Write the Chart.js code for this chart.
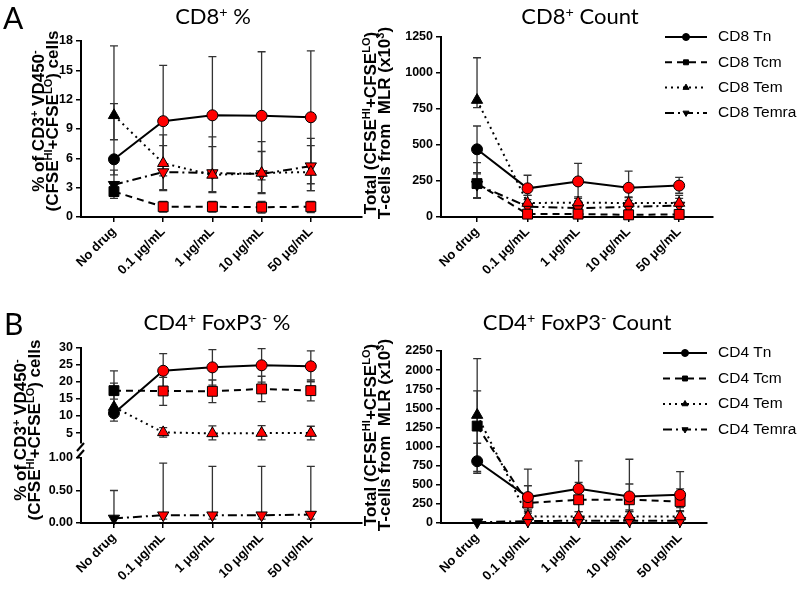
<!DOCTYPE html>
<html><head><meta charset="utf-8">
<script src="https://cdn.jsdelivr.net/npm/chart.js@4.4.1/dist/chart.umd.min.js"></script>
<style>
html,body{margin:0;padding:0;background:#fff;}
#wrap{position:relative;width:800px;height:589px;overflow:hidden;background:#fff;}
canvas{position:absolute;left:0;top:0;}
.t{position:absolute;font-family:Lato,'Open Sans',sans-serif;font-size:22px;color:#000;white-space:nowrap;transform:translateX(-50%);line-height:1;}
.p{position:absolute;font-family:Lato,'Open Sans',sans-serif;font-size:30px;line-height:1;color:#000;}
.yt{position:absolute;width:260px;font-family:'Liberation Sans',Arial,sans-serif;font-weight:bold;font-size:17px;line-height:14px;text-align:center;transform:translate(-50%,-50%) rotate(-90deg);white-space:nowrap;color:#000;}
sup{font-size:0.65em;vertical-align:0;position:relative;top:-0.5em;line-height:0;}
</style></head>
<body><div id="wrap">
<canvas id="cTL" width="800" height="589"></canvas>
<canvas id="cTR" width="800" height="589"></canvas>
<canvas id="cBLt" width="800" height="589"></canvas>
<canvas id="cBLb" width="800" height="589"></canvas>
<canvas id="cBR" width="800" height="589"></canvas>
<div class="p" style="left:3px;top:2px;">A</div>
<div class="p" style="left:4px;top:308px;">B</div>
<div class="t" style="left:213px;top:5px;">CD8<sup>+</sup> %</div>
<div class="t" style="left:580px;top:5px;">CD8<sup>+</sup> Count</div>
<div class="t" style="left:217px;top:311px;">CD4<sup>+</sup> FoxP3<sup>-</sup> %</div>
<div class="t" style="left:577px;top:311px;">CD4<sup>+</sup> FoxP3<sup>-</sup> Count</div>
<div class="yt" style="left:46px;top:121px;">% of CD3<sup>+</sup> VD450<sup>-</sup><br>(CFSE<sup>HI</sup>+CFSE<sup>LO</sup>) cells</div>
<div class="yt" style="left:28px;top:430px;">% of CD3<sup>+</sup> VD450<sup>-</sup><br>(CFSE<sup>HI</sup>+CFSE<sup>LO</sup>) cells</div>
<div class="yt" style="left:378px;top:123px;">Total (CFSE<sup>HI</sup>+CFSE<sup>LO</sup>)<br>T-cells from&nbsp; MLR (x10<sup>3</sup>)</div>
<div class="yt" style="left:378px;top:435px;">Total (CFSE<sup>HI</sup>+CFSE<sup>LO</sup>)<br>T-cells from&nbsp; MLR (x10<sup>3</sup>)</div>
</div>
<script>
// ---------- data ----------
const categories = ['No drug', '0.1 μg/mL', '1 μg/mL', '10 μg/mL', '50 μg/mL'];

const cd8PctTicks = [0, 3, 6, 9, 12, 15, 18];
const cd8CntTicks = [0, 250, 500, 750, 1000, 1250];
const cd4PctUpperTicks = [5, 10, 15, 20, 25, 30];
const cd4PctLowerTicks = [0, 0.25, 0.5, 0.75, 1];
const cd4CntTicks = [0, 250, 500, 750, 1000, 1250, 1500, 1750, 2000, 2250];

// CD8+ % (mean, upper whisker end, lower whisker end)
const cd8PctTn = [5.9, 9.8, 10.4, 10.35, 10.2];
const cd8PctTnHi = [17.5, 15.5, 16.4, 16.9, 17.0];
const cd8PctTnLo = [4.3, 4.2, 4.4, 3.8, 3.4];
const cd8PctTcm = [2.6, 1.05, 1.05, 1.0, 1.05];
const cd8PctTcmHi = [3.0, 1.6, 1.6, 1.6, 1.6];
const cd8PctTcmLo = [1.9, 0.5, 0.5, 0.4, 0.45];
const cd8PctTem = [10.4, 5.5, 4.3, 4.5, 4.6];
const cd8PctTemHi = [11.6, 8.4, 7.2, 6.7, 7.3];
const cd8PctTemLo = [7.9, 2.7, 2.5, 2.4, 2.7];
const cd8PctTemra = [3.3, 4.6, 4.5, 4.4, 5.2];
const cd8PctTemraHi = [4.8, 7.3, 8.2, 7.7, 8.05];
const cd8PctTemraLo = [2.3, 2.8, 2.6, 2.5, 2.7];

// CD8+ count (x10^3)
const cd8CntTn = [470, 199, 247, 203, 218];
const cd8CntTnHi = [632, 290, 372, 318, 275];
const cd8CntTnLo = [308, 150, 130, 140, 165];
const cd8CntTcm = [232, 20, 20, 15, 18];
const cd8CntTcmHi = [377, 35, 35, 30, 35];
const cd8CntTcmLo = [134, 8, 8, 5, 6];
const cd8CntTem = [812, 97, 100, 97, 97];
const cd8CntTemHi = [1106, 150, 140, 135, 150];
const cd8CntTemLo = [759, 45, 55, 50, 50];
const cd8CntTemra = [225, 72, 62, 70, 80];
const cd8CntTemraHi = [300, 120, 110, 115, 130];
const cd8CntTemraLo = [130, 30, 25, 25, 30];

// CD4+ FoxP3- %
const cd4PctTn = [10.8, 23.2, 24.2, 24.8, 24.5];
const cd4PctTnHi = [12.4, 28.2, 29.4, 29.7, 29.0];
const cd4PctTnLo = [8.5, 18.2, 19.0, 19.9, 20.0];
const cd4PctTcm = [17.4, 17.3, 17.2, 17.9, 17.4];
const cd4PctTcmHi = [23.2, 21.3, 20.5, 21.6, 20.5];
const cd4PctTcmLo = [14.9, 13.1, 13.9, 14.2, 14.4];
const cd4PctTem = [12.6, 5.2, 4.9, 5.0, 5.0];
const cd4PctTemHi = [19.6, 6.6, 7.1, 7.2, 7.0];
const cd4PctTemLo = [10.9, 3.8, 3.0, 3.0, 3.0];
const cd4PctTemra = [0.07, 0.12, 0.12, 0.12, 0.13];
const cd4PctTemraHi = [0.50, 0.92, 0.87, 0.87, 0.87];
const cd4PctTemraLo = [0.0, 0.06, 0.06, 0.06, 0.06];

// CD4+ FoxP3- count (x10^3)
const cd4CntTn = [808, 339, 447, 347, 369];
const cd4CntTnHi = [1043, 704, 812, 834, 673];
const cd4CntTnLo = [651, 150, 90, 150, 200];
const cd4CntTcm = [1268, 261, 304, 304, 282];
const cd4CntTcmHi = [1729, 487, 530, 510, 447];
const cd4CntTcmLo = [808, 130, 150, 170, 160];
const cd4CntTem = [1412, 87, 85, 85, 85];
const cd4CntTemHi = [2150, 170, 150, 150, 150];
const cd4CntTemLo = [674, 20, 20, 20, 20];
const cd4CntTemra = [10, 25, 30, 30, 30];
const cd4CntTemraHi = [20, 60, 60, 60, 60];
const cd4CntTemraLo = [0, 5, 5, 5, 5];

// ---------- styles ----------
const STYLE = {
  Tn:    {dash: [],            point: 'circle',   rot: 0,   r: 5.5},
  Tcm:   {dash: [7, 5],        point: 'rect',     rot: 0,   r: 7},
  Tem:   {dash: [2, 4],        point: 'triangle', rot: 0,   r: 6.5},
  Temra: {dash: [9, 4, 2, 4],  point: 'triangle', rot: 180, r: 6.5}
};
const RED = '#ff0000';

function ds(label, kind, values, hi, lo) {
  const s = STYLE[kind];
  return {
    label: label,
    data: values.map((v, i) => ({x: i, y: v})),
    errHi: hi, errLo: lo,
    borderColor: '#000', borderWidth: 2, borderDash: s.dash,
    pointStyle: s.point, pointRotation: s.rot, pointRadius: s.r, pointHoverRadius: s.r,
    pointBackgroundColor: values.map((v, i) => i === 0 ? '#000000' : RED),
    pointBorderColor: '#000', pointBorderWidth: 1,
    fill: false, tension: 0, clip: false
  };
}

// ---------- plugins ----------
const errorBars = {
  id: 'errorBars',
  beforeDatasetsDraw(chart) {
    const ctx = chart.ctx, xs = chart.scales.x, ys = chart.scales.y;
    ctx.save();
    ctx.strokeStyle = '#333';
    ctx.lineWidth = 1.3;
    chart.data.datasets.forEach(d => {
      if (!d.errHi) return;
      d.data.forEach((p, i) => {
        const x = xs.getPixelForValue(p.x);
        const hiV = d.errHi[i], loV = Math.max(d.errLo[i], ys.min);
        const yh = ys.getPixelForValue(hiV), yl = ys.getPixelForValue(loV);
        ctx.beginPath();
        ctx.moveTo(x, yh); ctx.lineTo(x, yl);
        ctx.moveTo(x - 4, yh); ctx.lineTo(x + 4, yh);
        if (d.errLo[i] > ys.min) { ctx.moveTo(x - 4, yl); ctx.lineTo(x + 4, yl); }
        ctx.stroke();
      });
    });
    ctx.restore();
  }
};

const lineLegend = {
  id: 'lineLegend',
  afterDraw(chart, args, o) {
    if (!o || o.x === undefined) return;
    const ctx = chart.ctx;
    chart.data.datasets.forEach((d, i) => {
      const y = o.y + i * o.dy;
      ctx.save();
      ctx.strokeStyle = '#000'; ctx.lineWidth = 2;
      ctx.setLineDash(d.borderDash || []);
      ctx.beginPath(); ctx.moveTo(o.x, y); ctx.lineTo(o.x + o.len, y); ctx.stroke();
      ctx.setLineDash([]);
      ctx.fillStyle = '#000'; ctx.lineWidth = 1;
      Chart.helpers.drawPoint(ctx, {pointStyle: d.pointStyle, rotation: d.pointRotation || 0, radius: o.r, borderWidth: 1}, o.x + o.len / 2, y);
      ctx.font = o.font; ctx.textBaseline = 'middle'; ctx.textAlign = 'left';
      ctx.fillText(d.label, o.x + o.len + o.gap, y);
      ctx.restore();
    });
  }
};

const axisBreak = {
  id: 'axisBreak',
  afterDraw(chart, args, o) {
    if (!o || !o.where) return;
    const ctx = chart.ctx, a = chart.chartArea;
    const y = o.where === 'bottom' ? a.bottom + 4 : a.top - 4;
    ctx.save();
    ctx.strokeStyle = '#000'; ctx.lineWidth = 2;
    ctx.beginPath();
    ctx.moveTo(a.left - 4, y + 4); ctx.lineTo(a.left + 3, y - 4);
    ctx.stroke();
    ctx.restore();
  }
};

// ---------- chart builder ----------
const Y_W = 60, X_H = 66;
function makeChart(id, c) {
  const padBottom = 589 - c.plot.y1 - (c.showX ? X_H : 0);
  return new Chart(document.getElementById(id), {
    type: 'line',
    data: {datasets: c.datasets},
    plugins: [errorBars, lineLegend, axisBreak],
    options: {
      responsive: false, animation: false, events: [],
      layout: {padding: {left: c.plot.x0 - Y_W, right: 800 - c.plot.x1, top: c.plot.y0, bottom: padBottom}},
      plugins: {
        legend: {display: false}, tooltip: {enabled: false}, title: {display: false},
        lineLegend: c.legend || {}, axisBreak: c.brk || {}
      },
      scales: {
        x: {
          type: 'linear', min: c.xRange[0], max: c.xRange[1], display: c.showX,
          afterBuildTicks: s => { s.ticks = categories.map((t, i) => ({value: i})); },
          afterFit: s => { if (c.showX) s.height = X_H; },
          grid: {display: true, drawOnChartArea: false, drawTicks: true, tickLength: 5, color: '#000', lineWidth: 1.5},
          border: {display: true, color: '#000', width: 2},
          ticks: {autoSkip: false, minRotation: 45, maxRotation: 45, padding: 2, color: '#000',
                  font: {family: "'Liberation Sans', Arial, sans-serif", size: 13, weight: 'bold'},
                  callback: v => categories[v]}
        },
        y: {
          type: 'linear', min: c.yRange[0], max: c.yRange[1],
          afterBuildTicks: s => { s.ticks = c.yTicks.map(v => ({value: v})); },
          afterFit: s => { s.width = Y_W; },
          grid: {display: true, drawOnChartArea: false, drawTicks: true, tickLength: 5, color: '#000', lineWidth: 1.5},
          border: {display: true, color: '#000', width: 2},
          ticks: {padding: 3, color: '#000',
                  font: {family: "'Liberation Sans', Arial, sans-serif", size: 12.5, weight: 'bold'},
                  callback: c.yFmt || (v => String(v))}
        }
      }
    }
  });
}

const legendFont = "15.5px 'Liberation Sans', Arial, sans-serif";

makeChart('cTL', {
  plot: {x0: 81, x1: 362, y0: 41, y1: 217}, xRange: [-0.67, 5.04], yRange: [0, 18], yTicks: cd8PctTicks, showX: true,
  datasets: [
    ds('CD8 Tn', 'Tn', cd8PctTn, cd8PctTnHi, cd8PctTnLo),
    ds('CD8 Tcm', 'Tcm', cd8PctTcm, cd8PctTcmHi, cd8PctTcmLo),
    ds('CD8 Tem', 'Tem', cd8PctTem, cd8PctTemHi, cd8PctTemLo),
    ds('CD8 Temra', 'Temra', cd8PctTemra, cd8PctTemraHi, cd8PctTemraLo)
  ]
});

makeChart('cTR', {
  plot: {x0: 441, x1: 713, y0: 37, y1: 217}, xRange: [-0.713, 4.67], yRange: [0, 1250], yTicks: cd8CntTicks, showX: true,
  legend: {x: 665, y: 37, dy: 25.3, len: 42, gap: 11, r: 3.5, font: legendFont},
  datasets: [
    ds('CD8 Tn', 'Tn', cd8CntTn, cd8CntTnHi, cd8CntTnLo),
    ds('CD8 Tcm', 'Tcm', cd8CntTcm, cd8CntTcmHi, cd8CntTcmLo),
    ds('CD8 Tem', 'Tem', cd8CntTem, cd8CntTemHi, cd8CntTemLo),
    ds('CD8 Temra', 'Temra', cd8CntTemra, cd8CntTemraHi, cd8CntTemraLo)
  ]
});

makeChart('cBLt', {
  plot: {x0: 81, x1: 362, y0: 347.5, y1: 443}, xRange: [-0.67, 5.04], yRange: [2.1, 30], yTicks: cd4PctUpperTicks, showX: false,
  brk: {where: 'bottom'},
  datasets: [
    ds('CD4 Tn', 'Tn', cd4PctTn, cd4PctTnHi, cd4PctTnLo),
    ds('CD4 Tcm', 'Tcm', cd4PctTcm, cd4PctTcmHi, cd4PctTcmLo),
    ds('CD4 Tem', 'Tem', cd4PctTem, cd4PctTemHi, cd4PctTemLo)
  ]
});

makeChart('cBLb', {
  plot: {x0: 81, x1: 362, y0: 458, y1: 523}, xRange: [-0.67, 5.04], yRange: [0, 1], yTicks: cd4PctLowerTicks, showX: true,
  yFmt: v => v.toFixed(2), brk: {where: 'top'},
  datasets: [
    ds('CD4 Temra', 'Temra', cd4PctTemra, cd4PctTemraHi, cd4PctTemraLo)
  ]
});

makeChart('cBR', {
  plot: {x0: 441, x1: 707, y0: 351, y1: 523}, xRange: [-0.713, 4.53], yRange: [0, 2250], yTicks: cd4CntTicks, showX: true,
  legend: {x: 663, y: 353, dy: 25.5, len: 44, gap: 11, r: 3.5, font: legendFont},
  datasets: [
    ds('CD4 Tn', 'Tn', cd4CntTn, cd4CntTnHi, cd4CntTnLo),
    ds('CD4 Tcm', 'Tcm', cd4CntTcm, cd4CntTcmHi, cd4CntTcmLo),
    ds('CD4 Tem', 'Tem', cd4CntTem, cd4CntTemHi, cd4CntTemLo),
    ds('CD4 Temra', 'Temra', cd4CntTemra, cd4CntTemraHi, cd4CntTemraLo)
  ]
});
</script>
</body></html>
